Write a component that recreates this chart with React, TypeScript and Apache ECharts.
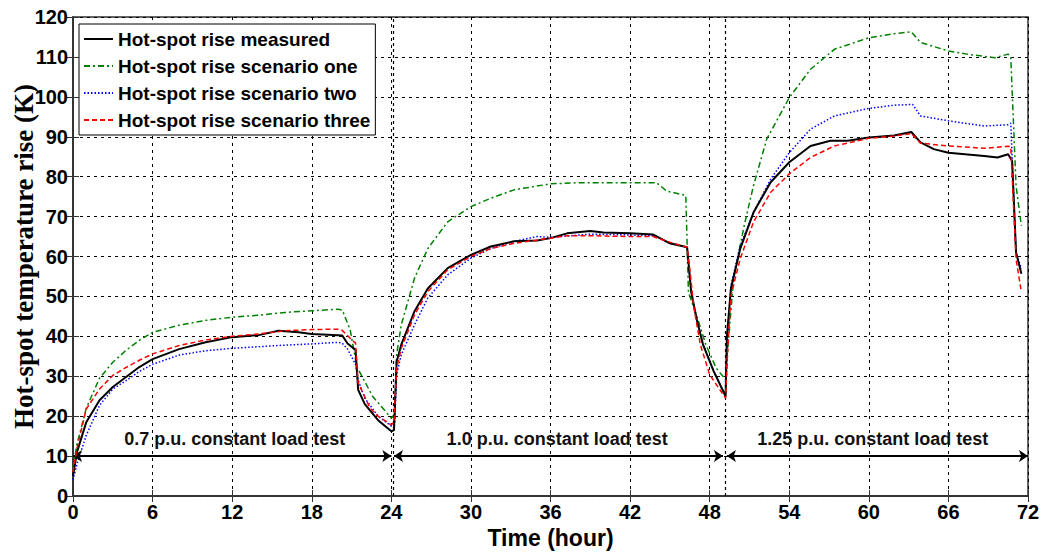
import React, { useEffect, useRef } from "react";
import * as echarts from "echarts";

// ---- data (hours, K) ----
const measured: number[][] = [
  [0, 5], [0.3, 11], [1, 18.5], [2, 24], [3, 27.3], [4, 29.8], [5, 32.3], [6, 34.3], [8, 36.8], [10, 38.5],
  [12, 39.8], [14, 40.3], [15.5, 41.4], [17, 41], [18, 40.6], [20, 40.3], [20.3, 40.2], [20.7, 38.2], [21.3, 36.6],
  [21.5, 26.6], [22, 23], [23, 19], [24, 16.2],
  [24.2, 16.5], [24.4, 33.7], [24.75, 37.9], [25.75, 46.3], [26.75, 52], [28.25, 57.1], [30, 60.4], [31.5, 62.5],
  [33.25, 63.8], [35, 64], [36, 64.6], [37.25, 65.8], [39, 66.4], [40, 66], [42, 65.8], [43.75, 65.5], [44.25, 64.6],
  [45, 63.3], [46.3, 62.3], [46.6, 51.3], [47, 44.6], [47.5, 37.9], [48.3, 31.3], [49.2, 25],
  [49.3, 40], [49.6, 51.9], [50.3, 61.9], [51.3, 71], [52.6, 78.6], [54, 83.6], [55.6, 87.7], [57.1, 89], [58.4, 89],
  [60, 89.8], [61.9, 90.3], [63.2, 91.2], [63.9, 88.6], [64.9, 86.9], [66, 86], [68.7, 85.2], [69.7, 84.8],
  [70.5, 85.6], [70.8, 84], [71.1, 61], [71.5, 55.7],
];
const scenarioOne: number[][] = [
  [0, 7], [0.3, 13], [1, 22], [2, 29.5], [3, 33.5], [4, 36.5], [5, 39], [6, 41], [8, 42.8], [10, 44], [12, 44.8],
  [14, 45.3], [16, 46], [18, 46.4], [20, 46.8], [20.3, 46.6], [20.9, 41.6], [21.4, 32.4], [22.6, 24.9], [24, 19.5],
  [24.25, 20.5], [24.4, 35.4], [24.75, 42.9], [25.75, 54.6], [26.75, 62], [28.25, 68.7], [30, 72.5], [31.5, 74.6],
  [33.25, 76.7], [36, 78.2], [38.25, 78.5], [44, 78.5], [44.75, 76.4], [46.2, 75.3], [46.4, 51], [47, 45.4],
  [47.7, 38], [48.5, 32], [49.2, 29.2],
  [49.45, 40.2], [49.8, 54.4], [50.6, 67.7], [51.3, 77.7], [52.3, 89.4], [54, 99.8], [55.6, 106.9], [57.4, 111.9],
  [60, 114.8], [61.9, 115.8], [63.2, 116.3], [63.9, 113.6], [66, 111.5], [67.4, 110.7], [69.5, 109.8], [70.5, 110.7],
  [70.7, 110], [71.1, 77.7], [71.5, 67.7],
];
const scenarioTwo: number[][] = [
  [0, 4], [0.3, 8], [1, 15.2], [2, 22.7], [3, 26.8], [4, 28.9], [5, 31.2], [6, 33], [8, 35.3], [10, 36.4], [12, 37],
  [14, 37.4], [16, 37.8], [18, 38.1], [20, 38.5], [20.3, 38.3], [20.7, 36.8], [21.3, 33], [21.5, 29], [22, 24.5],
  [23, 20], [24, 17.5],
  [24.25, 18], [24.4, 30.4], [24.75, 35.4], [25.75, 42.9], [26.75, 49.6], [28.25, 55.4], [30, 59.6], [31.5, 62],
  [33.25, 63.8], [35, 65], [36, 64.8], [39, 65.6], [42, 65.4], [43.75, 65.2], [44.25, 64.6], [45, 63.3], [46.3, 62.3],
  [46.6, 51.3], [47, 44.6], [47.5, 38], [48.3, 31.3], [49.2, 25],
  [49.35, 38], [49.6, 52.7], [50.3, 62.7], [51.3, 71], [52.6, 79.4], [54, 86], [55.6, 91.9], [57.4, 95.2], [60, 97.1],
  [61.9, 97.9], [63.3, 98.1], [63.9, 95.2], [66, 94], [68.7, 92.7], [70.5, 93], [70.7, 93.4], [71.1, 61], [71.5, 56.9],
];
const scenarioThree: number[][] = [
  [0, 6], [0.3, 12], [1, 21.8], [2, 26.8], [3, 30.2], [4, 32.2], [5, 34], [6, 35.6], [8, 37.7], [10, 39.1], [12, 40],
  [14, 40.6], [16, 41.4], [18, 41.7], [20, 41.8], [20.3, 41.5], [20.9, 39.5], [21.3, 38.3], [21.5, 28.3], [22.4, 22],
  [23, 20], [24, 17.8],
  [24.2, 18.5], [24.4, 32], [24.75, 37], [25.75, 45.4], [26.75, 51.2], [28.25, 56.7], [30, 60], [31.5, 62], [33.25, 63.3],
  [36, 64.6], [37.25, 65.2], [39, 65.2], [42, 65], [43.75, 65], [44.25, 64.4], [45, 63.6], [46.3, 62.3], [46.5, 57],
  [46.8, 47.5], [47.3, 37.9], [48, 30.4], [49.2, 24.5],
  [49.35, 36], [49.6, 50.2], [50.3, 59.4], [51.3, 68.6], [52.6, 76.1], [54, 80.7], [55.6, 84.8], [57.4, 87.7],
  [60, 89.6], [61.9, 90.2], [63.2, 90.8], [63.9, 88.4], [66, 87.7], [68.7, 87.1], [70.5, 87.6], [70.7, 87.5],
  [71.1, 59.4], [71.5, 51.1],
];
const seriesNames = [
  "Hot-spot rise measured",
  "Hot-spot rise scenario one",
  "Hot-spot rise scenario two",
  "Hot-spot rise scenario three",
];
const testLabels = ["0.7 p.u. constant load test", "1.0 p.u. constant load test", "1.25 p.u. constant load test"];
const testLabelPos: number[][] = [[12.2, 14.2], [36.5, 14.2], [60.3, 14.2]];
const arrowSpans: number[][] = [[0, 24], [24.2, 49], [49.3, 72]];
const arrowLevel = 10;
const boundaryLines = [24.15, 49.2];

const AX = 'Arial, "Liberation Sans", sans-serif';

export default function App() {
  const ref = useRef<HTMLDivElement>(null);
  useEffect(() => {
    if (!ref.current) return;
    const chart = echarts.init(ref.current, null, { renderer: "svg" });
    const split = { show: true, lineStyle: { color: "#000", type: [3, 4] as any, width: 1 } };
    const mkLine = (name: string, data: number[][], color: string, width: number, type: any, z: number) => ({
      name,
      type: "line",
      data,
      symbol: "none",
      showSymbol: false,
      z,
      lineStyle: { color, width, type },
      itemStyle: { color },
    });
    const markData: any[] = arrowSpans.map(([a, b]) => [
      { coord: [a, arrowLevel], symbol: "arrow", symbolSize: 9 },
      { coord: [b, arrowLevel], symbol: "arrow", symbolSize: 9 },
    ]);
    boundaryLines.forEach((x) => {
      markData.push([
        { coord: [x, 0], symbol: "none", lineStyle: { type: [3, 3], width: 1.2, color: "#000" } },
        { coord: [x, 120], symbol: "none" },
      ]);
    });
    chart.setOption({
      animation: false,
      backgroundColor: "#fff",
      grid: {
        left: 73, right: 17, top: 17, bottom: 60, show: true, borderColor: "#333", borderWidth: 1.5,
        containLabel: false, outerBoundsMode: "none",
      },
      legend: {
        data: seriesNames,
        orient: "vertical",
        left: 79,
        top: 24,
        itemWidth: 29,
        itemHeight: 10,
        itemGap: 7,
        padding: [5, 5, 5, 4],
        backgroundColor: "#fff",
        borderColor: "#000",
        borderWidth: 1,
        itemStyle: { opacity: 0, borderWidth: 0 },
        textStyle: { fontFamily: AX, fontWeight: "bold", fontSize: 19, lineHeight: 20, color: "#000" },
      },
      xAxis: [
        {
          type: "value",
          min: 0,
          max: 72,
          interval: 6,
          name: "Time (hour)",
          nameLocation: "middle",
          nameGap: 30,
          nameMoveOverlap: false,
          nameTextStyle: { fontFamily: AX, fontWeight: "bold", fontSize: 23, color: "#000", verticalAlign: "top" },
          axisLine: { show: true, lineStyle: { color: "#333", width: 1.5 } },
          axisTick: { show: true, inside: true, length: 6, lineStyle: { color: "#333" } },
          axisLabel: { fontFamily: AX, fontWeight: "bold", fontSize: 20, color: "#000", margin: 6 },
          splitLine: split,
        },
        {
          type: "value",
          position: "top",
          min: 0,
          max: 72,
          interval: 6,
          axisLine: { show: true, lineStyle: { color: "#333", width: 1.5 } },
          axisTick: { show: true, inside: true, length: 6, lineStyle: { color: "#333" } },
          axisLabel: { show: false },
          splitLine: { show: false },
        },
      ],
      yAxis: [
        {
          type: "value",
          min: 0,
          max: 120,
          interval: 10,
          name: "Hot-spot temperature rise (K)",
          nameLocation: "middle",
          nameGap: 36,
          nameMoveOverlap: false,
          nameTextStyle: { fontFamily: '"Liberation Serif", "Times New Roman", serif', fontWeight: "bold", fontSize: 27, color: "#000" },
          axisLine: { show: true, lineStyle: { color: "#333", width: 1.5 } },
          axisTick: { show: true, inside: true, length: 6, lineStyle: { color: "#333" } },
          axisLabel: { fontFamily: AX, fontWeight: "bold", fontSize: 20, color: "#000", margin: 5 },
          splitLine: split,
        },
        {
          type: "value",
          position: "right",
          min: 0,
          max: 120,
          interval: 10,
          axisLine: { show: true, lineStyle: { color: "#333", width: 1.5 } },
          axisTick: { show: true, inside: true, length: 6, lineStyle: { color: "#333" } },
          axisLabel: { show: false },
          splitLine: { show: false },
        },
      ],
      series: [
        mkLine(seriesNames[1], scenarioOne, "#008000", 1.5, [6, 3, 2, 3], 3),
        mkLine(seriesNames[2], scenarioTwo, "#0000ff", 1.5, [1.5, 2], 4),
        mkLine(seriesNames[0], measured, "#000000", 2, "solid", 5),
        mkLine(seriesNames[3], scenarioThree, "#ff0000", 1.5, [5, 3], 6),
        {
          name: "annotations",
          type: "scatter",
          silent: true,
          symbolSize: 0,
          z: 7,
          itemStyle: { opacity: 1 },
          data: testLabels.map((t, i) => ({ name: t, value: testLabelPos[i] })),
          label: {
            show: true,
            position: "inside",
            formatter: (p: any) => p.name,
            fontFamily: AX,
            fontWeight: "bold",
            fontSize: 18,
            color: "#111",
            textBorderWidth: 0,
            opacity: 1,
          },
          markLine: {
            silent: true,
            symbol: ["none", "none"],
            label: { show: false },
            lineStyle: { color: "#000", width: 1.8, type: "solid" },
            data: markData,
          },
        },
      ],
    });
    return () => chart.dispose();
  }, []);
  return <div ref={ref} style={{ position: "fixed", left: 0, top: 0, width: 1045, height: 556 }} />;
}
